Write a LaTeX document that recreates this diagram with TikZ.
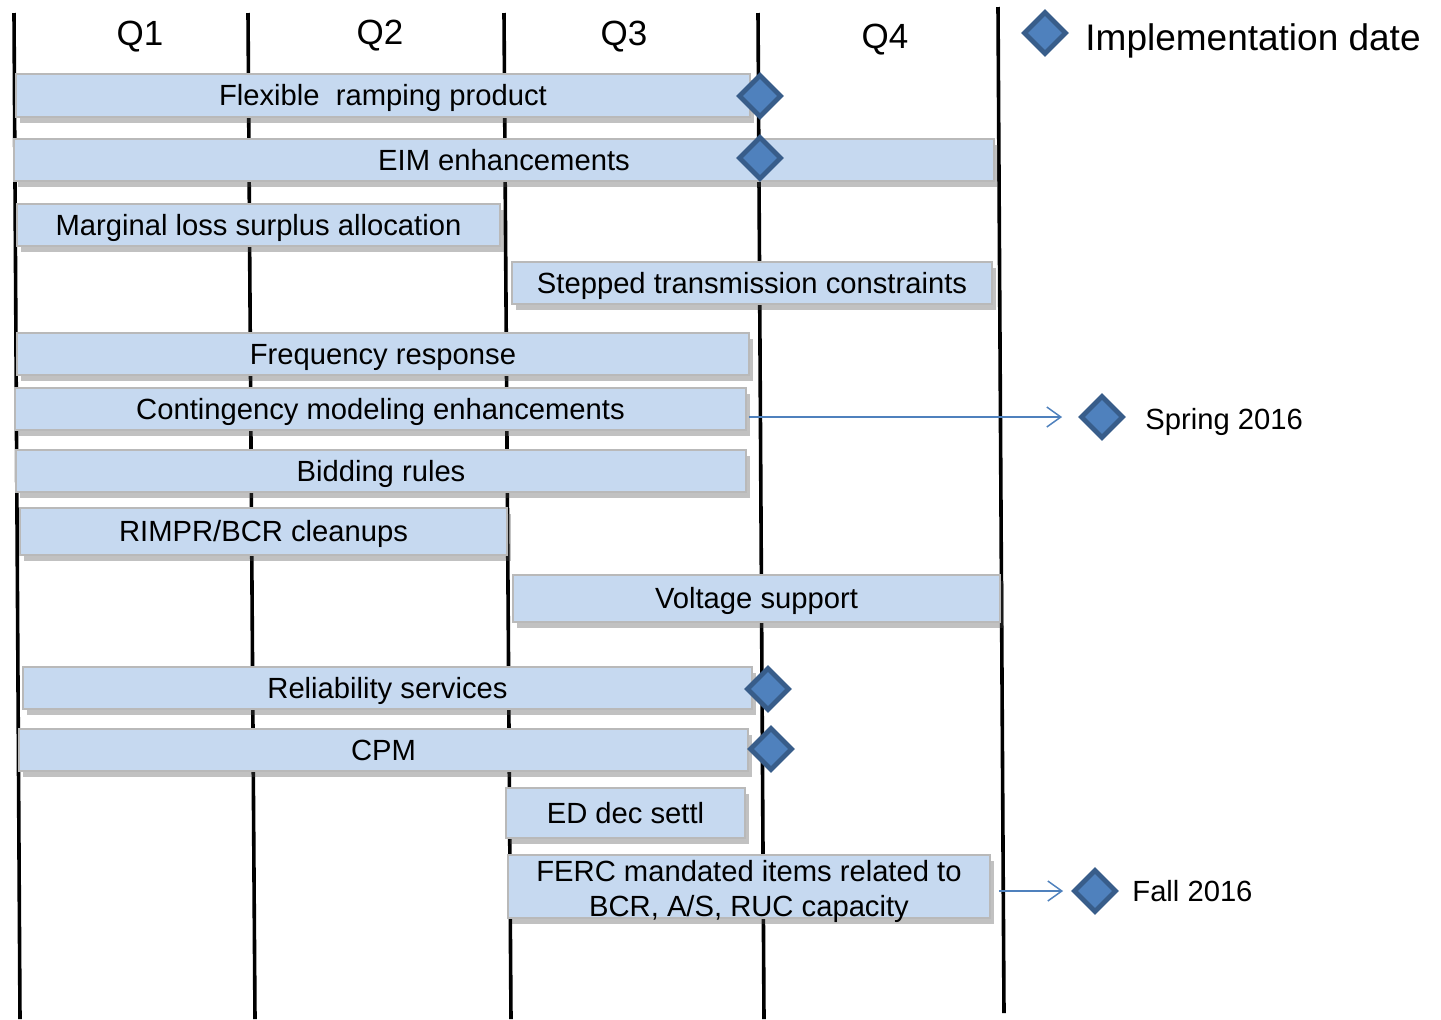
\documentclass[tikz,border=0pt]{standalone}
\usepackage{fontspec}
\setmainfont{Liberation Sans}
\usepackage{tikz}
\usetikzlibrary{shapes.geometric, shadows, arrows.meta, calc}
\definecolor{barblue}{RGB}{198,217,240}
\definecolor{bargray}{RGB}{185,185,185}
\definecolor{dmdblue}{RGB}{79,129,189}
\definecolor{dmdedge}{RGB}{56,93,138}

\begin{document}
\begin{tikzpicture}[x=0.5pt, y=-0.5pt]
		\tikzset{bar/.style={draw=bargray, line width=0.8pt, fill=barblue, inner sep=0pt, align=center,
				text height=10.4pt, text depth=0pt,
				font=\fontsize{14.6pt}{17.5pt}\selectfont,
				drop shadow={shadow xshift=2pt, shadow yshift=-3pt, opacity=0.35, fill=black!70}}}
		\tikzset{datemark/.style={diamond, draw=dmdedge, line width=2.4pt, fill=dmdblue, inner sep=0pt, minimum size=21.5pt}}
		\tikzset{quarter/.style={font=\fontsize{17.5pt}{20pt}\selectfont}}
		\tikzset{datelabel/.style={anchor=west, inner sep=0pt, text depth=0pt, font=\fontsize{14.6pt}{17.5pt}\selectfont}}
		\tikzset{datearrow/.style={-{Straight Barb[length=7pt, width=10pt]}, draw=dmdblue, line width=0.75pt}}
		\tikzset{qline/.style={line width=1.8pt}}
		
		\useasboundingbox (0,0) rectangle (1441,1019);
		
		% quarter lines
		\coordinate (t0) at (14,13);   \coordinate (b0) at (20,1019);
		\coordinate (t1) at (248,13);  \coordinate (b1) at (255,1019);
		\coordinate (t2) at (504,13);  \coordinate (b2) at (511,1019);
		\coordinate (t3) at (758,13);  \coordinate (b3) at (764,1019);
		\coordinate (t4) at (998,7);   \coordinate (b4) at (1004,1013);
		\draw[qline] (t0) -- (b0);
		\draw[qline] (t1) -- (b1);
		\draw[qline] (t2) -- (b2);
		\draw[qline] (t3) -- (b3);
		\draw[qline] (t4) -- (b4);
		
		\node(q1) at (140,37) [quarter] {Q1};
		\node(q2) at (380,36) [quarter] {Q2};
		\node(q3) at (624,37) [quarter] {Q3};
		\node(q4) at (885,40) [quarter] {Q4};
		
		% bars
		\node(bar_flex) at (383,95.5) [bar, minimum width=367pt, minimum height=21.5pt] {Flexible~ ramping product};
		\node(bar_eim) at (504,160) [bar, minimum width=490pt, minimum height=21pt] {EIM enhancements};
		\node(bar_mls) at (258.5,225) [bar, minimum width=241.5pt, minimum height=21pt] {Marginal loss surplus allocation};
		\node(bar_stc) at (752,283) [bar, minimum width=240pt, minimum height=21pt] {Stepped transmission constraints};
		\node(bar_freq) at (383,354) [bar, minimum width=366pt, minimum height=21pt] {Frequency response};
		\node(bar_cont) at (380.5,409) [bar, minimum width=365.5pt, minimum height=21pt] {Contingency modeling enhancements};
		\node(bar_bid) at (381,471) [bar, minimum width=365pt, minimum height=21pt] {Bidding rules};
		\node(bar_rimpr) at (263.5,531.5) [bar, minimum width=243.5pt, minimum height=23.5pt] {RIMPR/BCR cleanups};
		\node(bar_volt) at (756.5,598.5) [bar, minimum width=243.5pt, minimum height=23.5pt] {Voltage support};
		\node(bar_rel) at (387.5,688) [bar, minimum width=364.5pt, minimum height=21pt] {Reliability services};
		\node(bar_cpm) at (383.5,750) [bar, minimum width=364.5pt, minimum height=21pt] {CPM};
		\node(bar_ed) at (625.5,813) [bar, minimum width=119.5pt, minimum height=25pt] {ED dec settl};
		\node(bar_ferc) at (749,886.5) [bar, text height=29.9pt, minimum width=241pt, minimum height=31.5pt] {FERC mandated items related to\\BCR, A/S, RUC capacity};
		
		% implementation dates
		\node(d_flex) at (760,96) [datemark] {};
		\node(d_eim) at (760,158) [datemark] {};
		\node(d_rel) at (768,689) [datemark] {};
		\node(d_cpm) at (771,749) [datemark] {};
		
		\node(spring) at (1102,417) [datemark] {};
		\node(fall) at (1095,891) [datemark] {};
		\node(spring_txt) at (1145,419) [datelabel] {Spring 2016};
		\node(fall_txt) at (1132,891) [datelabel] {Fall 2016};
		
		\draw[datearrow, shorten <=1pt, shorten >=8pt] (bar_cont.east |- spring) -- (spring.west);
		\draw[datearrow, shorten <=4pt, shorten >=4pt] (bar_ferc.east |- fall) -- (fall.west);
		
		% legend
		\node(legend) at (1045,33) [datemark] {};
		\node(legend_txt) at (1085,37) [datelabel, font=\fontsize{18.5pt}{22pt}\selectfont] {Implementation date};
\end{tikzpicture}
\end{document}
